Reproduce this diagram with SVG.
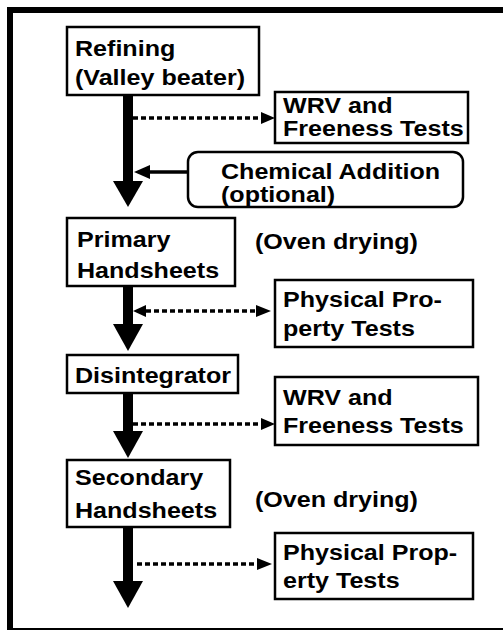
<svg xmlns="http://www.w3.org/2000/svg" width="503" height="631" viewBox="0 0 503 631">
<defs>
<style>
.box{fill:#fff;stroke:#000;stroke-width:2.5}
.t{font-family:"Liberation Sans",Arial,Helvetica,sans-serif;font-weight:bold;font-size:22px;fill:#000}
.shaft{fill:#000}
.dot{stroke:#000;stroke-width:3.5;stroke-dasharray:5 3;fill:none}
.solid{stroke:#000;stroke-width:3.5;fill:none}
</style>
</defs>
<rect width="503" height="631" fill="#fff"/>
<g id="frame">
<rect x="7" y="7" width="496" height="6" fill="#000"/>
<rect x="7" y="7" width="6" height="623" fill="#000"/>
<rect x="7" y="628" width="496" height="2" fill="#000"/>
</g>
<g id="connectors">
<rect class="shaft" x="123" y="95" width="10" height="88"/>
<polygon points="113,181 143,181 128,207"/>
<line class="dot" x1="133" y1="118" x2="262" y2="118"/>
<polygon points="261,112 275,118 261,124"/>
<line class="solid" x1="188" y1="172" x2="148" y2="172"/>
<polygon points="150,165 134,172 150,179"/>
<rect class="shaft" x="123" y="286" width="10" height="40"/>
<polygon points="113,324 143,324 128,351"/>
<line class="dot" x1="146" y1="311" x2="257" y2="311"/>
<polygon points="146,305 133,311 146,317"/>
<polygon points="256,305 271,311 256,317"/>
<rect class="shaft" x="123" y="393" width="10" height="40"/>
<polygon points="113,431 143,431 128,458"/>
<line class="dot" x1="133" y1="424" x2="262" y2="424"/>
<polygon points="261,418 275,424 261,430"/>
<rect class="shaft" x="123" y="527" width="10" height="56"/>
<polygon points="113,581 143,581 128,608"/>
<line class="dot" x1="137" y1="564" x2="258" y2="564"/>
<polygon points="257,558 272,564 257,570"/>
</g>
<g id="refining">
<rect class="box" x="67" y="27" width="192" height="68"/>
<text class="t" transform="matrix(1.14 0 0 1 75 56)">Refining</text>
<text class="t" transform="matrix(1.14 0 0 1 75 85)">(Valley beater)</text>
</g>
<g id="wrv1">
<rect class="box" x="275" y="92" width="193" height="51"/>
<text class="t" transform="matrix(1.14 0 0 1 283 113)">WRV and</text>
<text class="t" transform="matrix(1.14 0 0 1 283 136)">Freeness Tests</text>
</g>
<g id="chemical">
<rect class="box" x="188" y="152" width="275" height="55" rx="10" ry="10"/>
<text class="t" transform="matrix(1.14 0 0 1 221 179)">Chemical Addition</text>
<text class="t" transform="matrix(1.14 0 0 1 221 202)">(optional)</text>
</g>
<g id="primary">
<rect class="box" x="67" y="218" width="168" height="68"/>
<text class="t" transform="matrix(1.14 0 0 1 77 247)">Primary</text>
<text class="t" transform="matrix(1.14 0 0 1 77 278)">Handsheets</text>
</g>
<g id="oven1">
<text class="t" transform="matrix(1.14 0 0 1 255 249)">(Oven drying)</text>
</g>
<g id="phys1">
<rect class="box" x="275" y="280" width="198" height="67"/>
<text class="t" transform="matrix(1.14 0 0 1 283 307)">Physical Pro-</text>
<text class="t" transform="matrix(1.14 0 0 1 283 336)">perty Tests</text>
</g>
<g id="disintegrator">
<rect class="box" x="67" y="355" width="171" height="38"/>
<text class="t" transform="matrix(1.14 0 0 1 75 383)">Disintegrator</text>
</g>
<g id="wrv2">
<rect class="box" x="275" y="377" width="203" height="68"/>
<text class="t" transform="matrix(1.14 0 0 1 283 405)">WRV and</text>
<text class="t" transform="matrix(1.14 0 0 1 283 433)">Freeness Tests</text>
</g>
<g id="secondary">
<rect class="box" x="67" y="460" width="163" height="67"/>
<text class="t" transform="matrix(1.14 0 0 1 75 485)">Secondary</text>
<text class="t" transform="matrix(1.14 0 0 1 75 518)">Handsheets</text>
</g>
<g id="oven2">
<text class="t" transform="matrix(1.14 0 0 1 255 507)">(Oven drying)</text>
</g>
<g id="phys2">
<rect class="box" x="275" y="533" width="198" height="66"/>
<text class="t" transform="matrix(1.14 0 0 1 283 560)">Physical Prop-</text>
<text class="t" transform="matrix(1.14 0 0 1 283 588)">erty Tests</text>
</g>
</svg>
